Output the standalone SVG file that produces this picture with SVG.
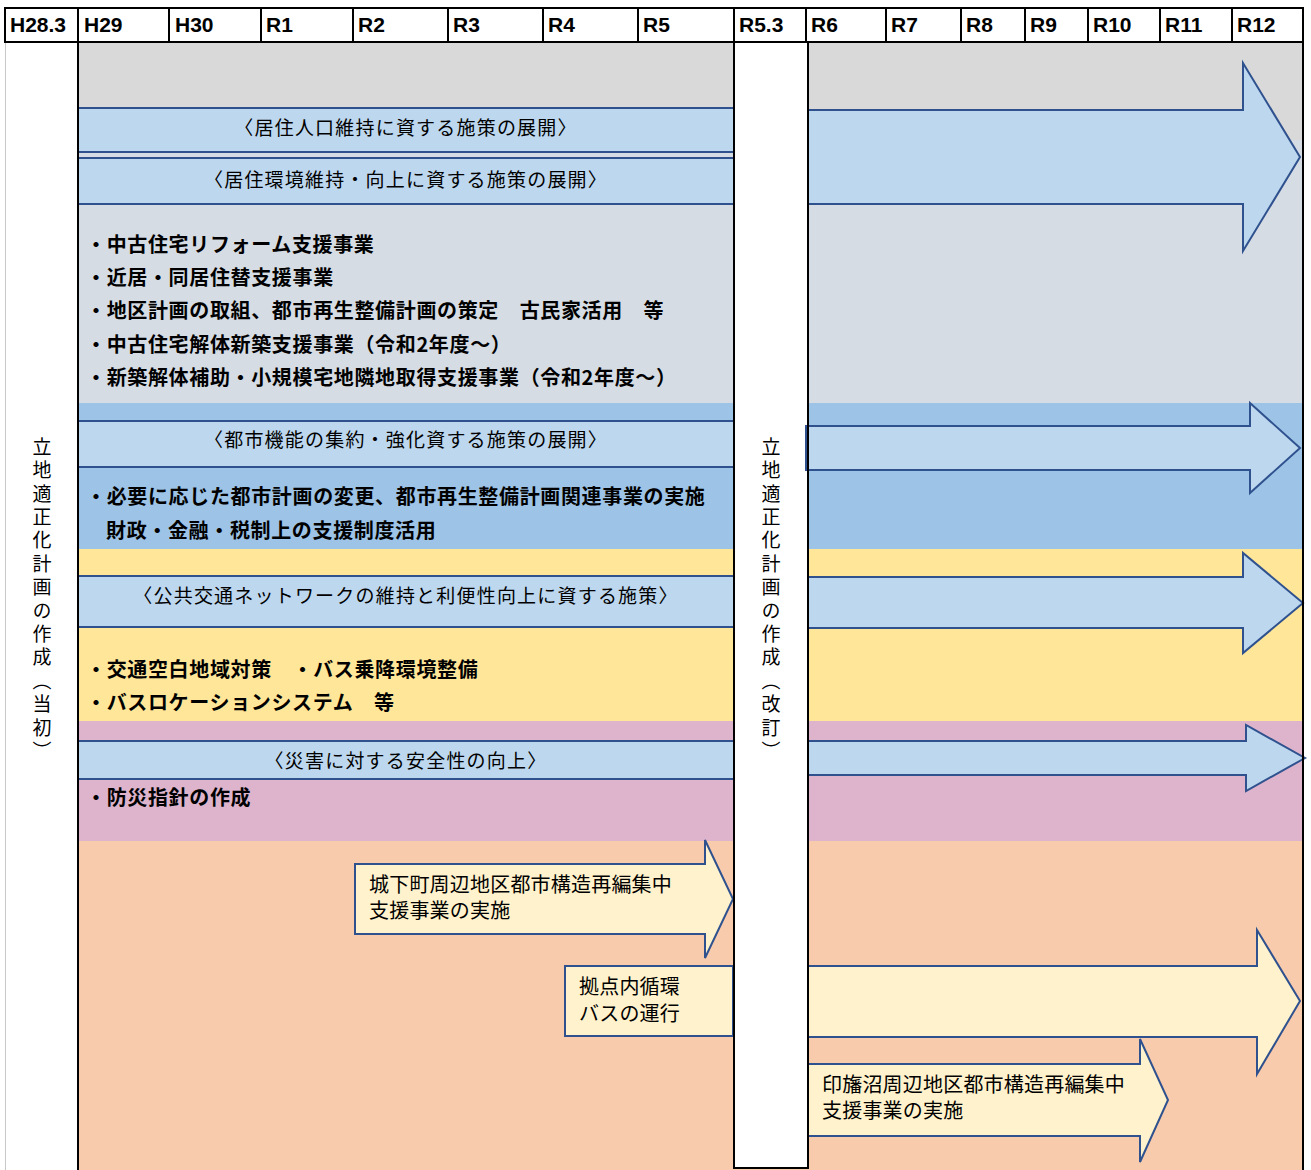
<svg xmlns="http://www.w3.org/2000/svg" width="1311" height="1170" viewBox="0 0 1311 1170">
<style>
.hd{fill:#fff;stroke:#000;stroke-width:2}
.ht{font-family:"Liberation Sans Narrow","Liberation Sans",Arial,sans-serif;font-size:21px;font-weight:bold;fill:#000}
.bar{fill:#BDD7EE;stroke:#2F528F;stroke-width:2}
.arr{fill:#BDD7EE;stroke:#2F528F;stroke-width:2;stroke-linejoin:miter}
.yarr{fill:#FFF2CC;stroke:#2F528F;stroke-width:2}
.tt{font-family:"Noto Sans CJK JP","Noto Sans",sans-serif;font-size:19px;fill:#000;text-anchor:middle;letter-spacing:1.2px}
.bl{font-family:"Noto Sans CJK JP","Noto Sans",sans-serif;font-size:20px;font-weight:bold;fill:#000;letter-spacing:0.65px}
.bx{font-family:"Noto Sans CJK JP","Noto Sans",sans-serif;font-size:20px;fill:#000;letter-spacing:0.2px}
.vt{font-family:"Noto Sans CJK JP","Noto Sans",sans-serif;font-size:19px;fill:#000;writing-mode:tb;letter-spacing:4.4px}
.bk{stroke:#000;stroke-width:2;fill:none}
</style>

<!-- background bands -->
<g id="bands">
<rect x="78" y="42" width="1225" height="98" fill="#D9D9D9"/>
<rect x="78" y="140" width="1225" height="263" fill="#D6DCE4"/>
<rect x="78" y="403" width="1225" height="146" fill="#9DC3E6"/>
<rect x="78" y="549" width="1225" height="172" fill="#FFE699"/>
<rect x="78" y="721" width="1225" height="120" fill="#DDB4CC"/>
<rect x="78" y="841" width="1225" height="329" fill="#F8CBAD"/>
<rect x="5" y="42" width="73" height="1128" fill="#fff"/>
<line x1="5.5" y1="42" x2="5.5" y2="1170" stroke="#C8C8C8" stroke-width="1"/>
<rect x="734" y="42" width="74" height="1126" fill="#fff"/>
</g>

<!-- left bars -->
<g id="bar-kyoju-jinko"><rect class="bar" x="78" y="108" width="656" height="44"/><text class="tt" x="406" y="134.5">〈居住人口維持に資する施策の展開〉</text></g>
<g id="bar-kyoju-kankyo"><rect class="bar" x="78" y="158" width="656" height="46"/><text class="tt" x="406" y="186.5">〈居住環境維持・向上に資する施策の展開〉</text></g>
<g id="bar-toshi-kino"><rect class="bar" x="78" y="421" width="656" height="46"/><text class="tt" x="406" y="446.5">〈都市機能の集約・強化資する施策の展開〉</text></g>
<g id="bar-kokyo-kotsu"><rect class="bar" x="78" y="576" width="656" height="51"/><text class="tt" x="406" y="602.5">〈公共交通ネットワークの維持と利便性向上に資する施策〉</text></g>
<g id="bar-saigai"><rect class="bar" x="78" y="741" width="656" height="38"/><text class="tt" x="406" y="767.5">〈災害に対する安全性の向上〉</text></g>

<!-- bullet lists -->
<g id="list-kyoju">
<text class="bl" x="86" y="252">・中古住宅リフォーム支援事業</text>
<text class="bl" x="86" y="285">・近居・同居住替支援事業</text>
<text class="bl" x="86" y="318">・地区計画の取組、都市再生整備計画の策定　古民家活用　等</text>
<text class="bl" x="86" y="352">・中古住宅解体新築支援事業（令和2年度～）</text>
<text class="bl" x="86" y="385">・新築解体補助・小規模宅地隣地取得支援事業（令和2年度～）</text>
</g>
<g id="list-toshi">
<text class="bl" x="86" y="504">・必要に応じた都市計画の変更、都市再生整備計画関連事業の実施</text>
<text class="bl" x="106" y="538">財政・金融・税制上の支援制度活用</text>
</g>
<g id="list-kotsu">
<text class="bl" x="86" y="677">・交通空白地域対策　・バス乗降環境整備</text>
<text class="bl" x="86" y="710">・バスロケーションシステム　等</text>
</g>
<g id="list-saigai">
<text class="bl" x="86" y="805">・防災指針の作成</text>
</g>

<!-- right arrows -->
<g id="arrow-kyoju"><path class="arr" d="M808,110 L1243,110 L1243,63 L1300,157 L1243,251 L1243,204 L808,204 Z"/></g>
<g id="arrow-toshi"><path class="arr" d="M806,426 L1250,426 L1250,403 L1300,448 L1250,493 L1250,470 L806,470 Z"/></g>
<g id="arrow-kotsu"><path class="arr" d="M808,577 L1243,577 L1243,553 L1303,603 L1243,653 L1243,628 L808,628 Z"/></g>
<g id="arrow-saigai"><path class="arr" d="M808,741 L1246,741 L1246,725 L1305,758 L1246,791 L1246,775 L808,775 Z"/></g>

<!-- peach section -->
<g id="arrow-jokamachi"><path class="yarr" d="M355,864 L705,864 L705,840 L733,899 L705,958 L705,934 L355,934 Z"/>
<text class="bx"><tspan x="369" y="892">城下町周辺地区都市構造再編集中</tspan><tspan x="369" y="918">支援事業の実施</tspan></text></g>
<g id="box-junkan-bus"><rect class="yarr" x="565" y="966" width="168" height="70"/>
<text class="bx"><tspan x="579" y="994">拠点内循環</tspan><tspan x="579" y="1021">バスの運行</tspan></text></g>
<g id="arrow-junkan-bus"><path class="yarr" d="M808,966 L1257,966 L1257,930 L1300,1001 L1257,1074 L1257,1037 L808,1037 Z"/></g>
<g id="arrow-inbanuma"><path class="yarr" d="M808,1064 L1140,1064 L1140,1039 L1168,1100 L1140,1162 L1140,1136 L808,1136 Z"/>
<text class="bx"><tspan x="822" y="1092">印旛沼周辺地区都市構造再編集中</tspan><tspan x="822" y="1118">支援事業の実施</tspan></text></g>

<!-- frame lines -->
<g id="frame">
<line class="bk" x1="78" y1="42" x2="78" y2="1170"/>
<polyline class="bk" points="734,42 734,1168 808,1168 808,42"/>
<line class="bk" x1="1303" y1="42" x2="1303" y2="1170"/>
</g>

<!-- vertical labels -->
<g id="label-tosho"><text class="vt" x="42" y="437">立地適正化計画の作成（当初）</text></g>
<g id="label-kaitei"><text class="vt" x="771" y="437">立地適正化計画の作成（改訂）</text></g>

<!-- header -->
<g id="header">
<rect class="hd" x="5" y="8" width="73" height="34"/>
<rect class="hd" x="78" y="8" width="91" height="34"/>
<rect class="hd" x="169" y="8" width="92" height="34"/>
<rect class="hd" x="261" y="8" width="92" height="34"/>
<rect class="hd" x="353" y="8" width="95" height="34"/>
<rect class="hd" x="448" y="8" width="95" height="34"/>
<rect class="hd" x="543" y="8" width="95" height="34"/>
<rect class="hd" x="638" y="8" width="96" height="34"/>
<rect class="hd" x="734" y="8" width="72" height="34"/>
<rect class="hd" x="806" y="8" width="80" height="34"/>
<rect class="hd" x="886" y="8" width="75" height="34"/>
<rect class="hd" x="961" y="8" width="64" height="34"/>
<rect class="hd" x="1025" y="8" width="63" height="34"/>
<rect class="hd" x="1088" y="8" width="72" height="34"/>
<rect class="hd" x="1160" y="8" width="72" height="34"/>
<rect class="hd" x="1232" y="8" width="71" height="34"/>
<text class="ht" x="10" y="32">H28.3</text>
<text class="ht" x="84" y="32">H29</text>
<text class="ht" x="175" y="32">H30</text>
<text class="ht" x="266" y="32">R1</text>
<text class="ht" x="358" y="32">R2</text>
<text class="ht" x="453" y="32">R3</text>
<text class="ht" x="548" y="32">R4</text>
<text class="ht" x="643" y="32">R5</text>
<text class="ht" x="739" y="32">R5.3</text>
<text class="ht" x="811" y="32">R6</text>
<text class="ht" x="891" y="32">R7</text>
<text class="ht" x="966" y="32">R8</text>
<text class="ht" x="1030" y="32">R9</text>
<text class="ht" x="1093" y="32">R10</text>
<text class="ht" x="1165" y="32">R11</text>
<text class="ht" x="1237" y="32">R12</text>
</g>

<g id="connectors"/>
</svg>
